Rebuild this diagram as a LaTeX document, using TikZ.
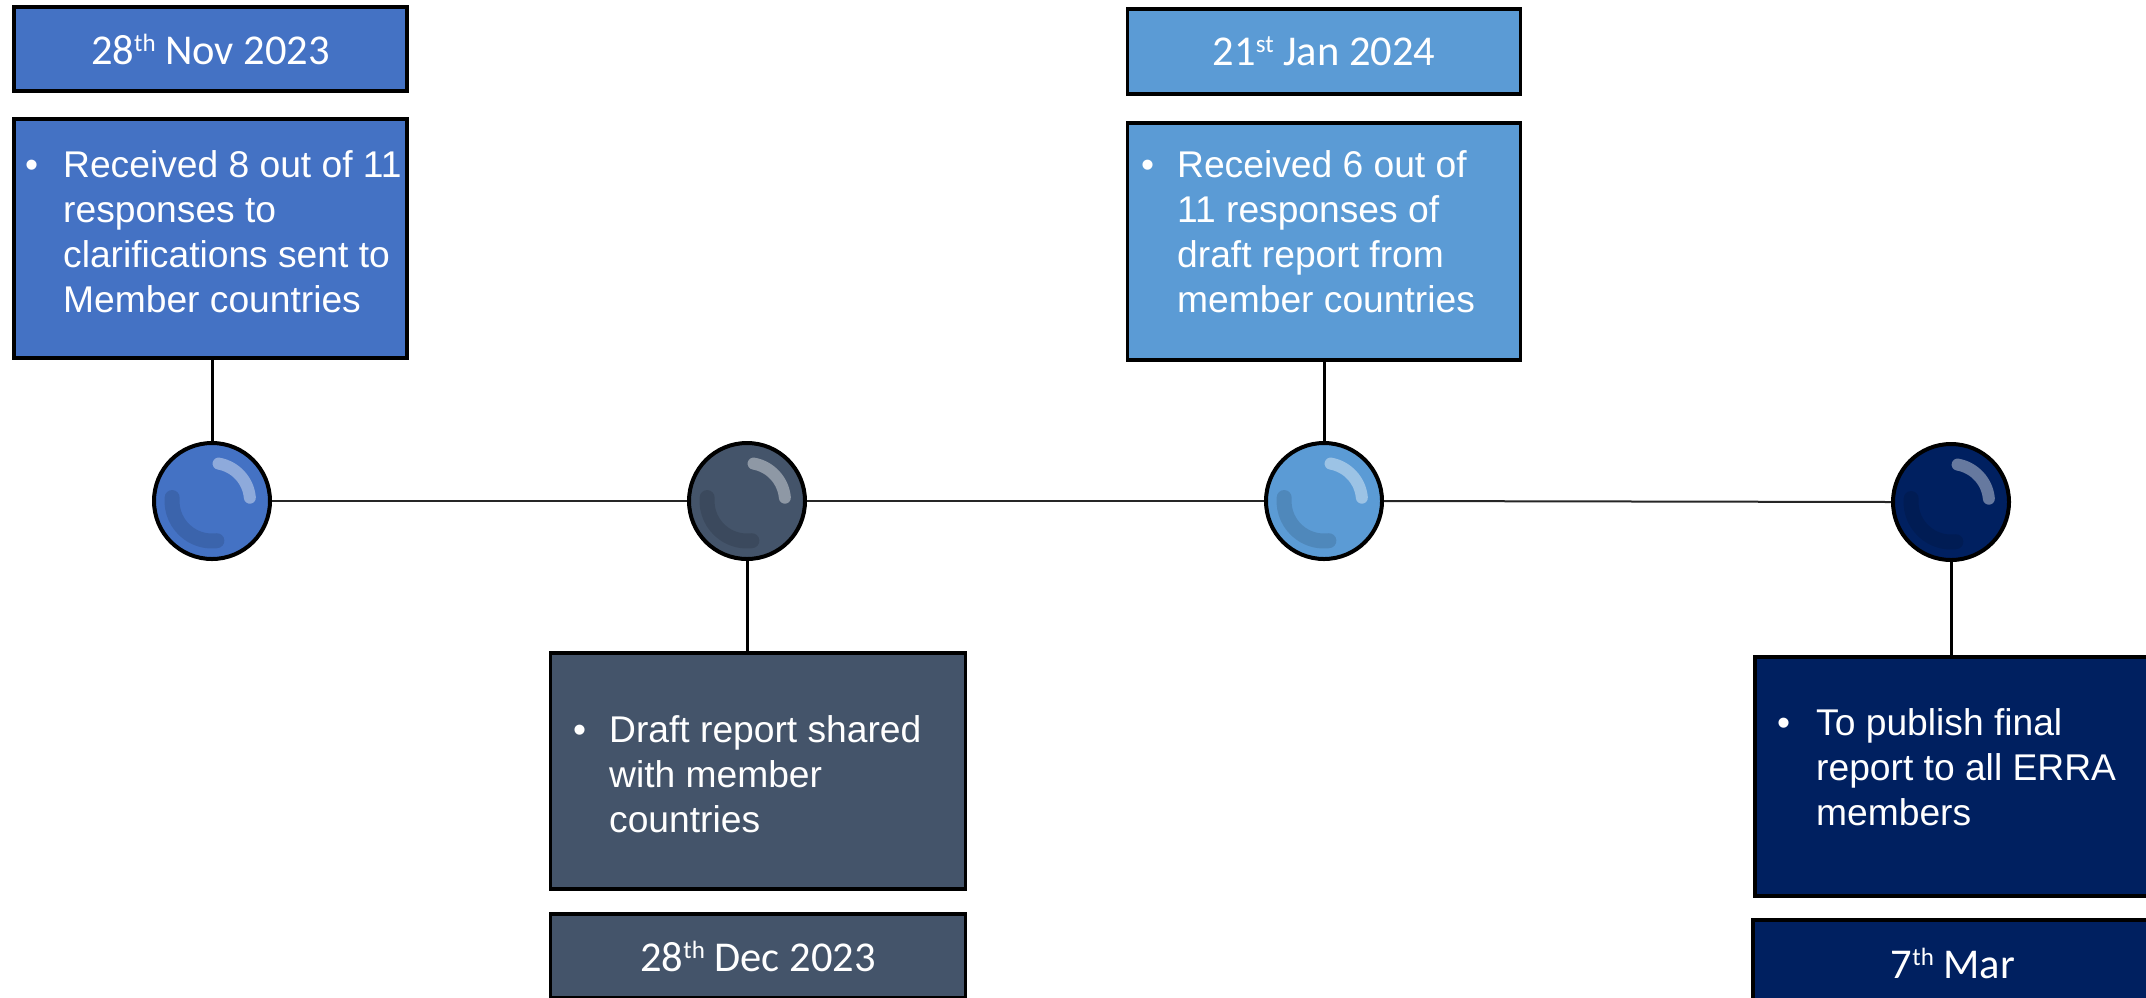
\documentclass[tikz,border=0pt]{standalone}
\usepackage{fontspec}
\setmainfont{Liberation Sans}
\newfontfamily\datefont{Carlito}
\definecolor{colA}{HTML}{4472C4}
\definecolor{colB}{HTML}{44546A}
\definecolor{colC}{HTML}{5B9BD5}
\definecolor{colD}{HTML}{002060}
\newcommand\datesup[1]{\raisebox{13pt}{\fontsize{25}{25}\selectfont #1}}
\tikzset{
  boxshape/.style={rectangle, draw=black, line width=3.5pt, inner sep=0pt},
  datebox/.style={boxshape, text=white, font=\datefont\fontsize{42.5}{48}\selectfont},
  bodytext/.style={inner sep=0pt, text=white, anchor=base west, font=\fontsize{37.2}{45}\selectfont},
  bead/.style={circle, draw=black, line width=4pt, minimum size=116pt, inner sep=0pt},
  hilite/.style={white, opacity=0.4, line width=12pt, line cap=round},
  darkarc/.style={black, opacity=0.12, line width=15pt, line cap=round},
  conn/.style={black, line width=3pt},
  tline/.style={black!85, line width=2pt},
}
\newcommand\beadmarks[1]{%
  \draw[hilite] ([shift={(80:38pt)}]#1.center) arc[start angle=80, end angle=5, radius=38pt];
  \draw[darkarc] ([shift={(175:40pt)}]#1.center) arc[start angle=175, end angle=277, radius=40pt];
}
\begin{document}
\begin{tikzpicture}[x=1pt,y=1pt]
\useasboundingbox (0,0) rectangle (2146,-997);
\fill[white] (0,0) rectangle (2146,-997);
\clip (0,0) rectangle (2146,-997);

% boxes
\node[datebox, fill=colA, minimum width=393pt, minimum height=84pt] (d1) at (210.5,-49) {28\datesup{th} Nov 2023};
\node[boxshape, fill=colA, minimum width=393pt, minimum height=239pt] (t1) at (210.5,-238.5) {};
\node[bodytext] (x1) at (25,-177) {\makebox[38pt][l]{\textbullet}\parbox[t]{340pt}{\raggedright Received 8 out of 11\\responses to\\clarifications sent to\\Member countries}};

\node[boxshape, fill=colB, minimum width=415pt, minimum height=236pt] (t2) at (758,-771) {};
\node[bodytext] (x2) at (573,-742) {\makebox[36pt][l]{\textbullet}\parbox[t]{340pt}{\raggedright Draft report shared\\with member\\countries}};
\node[datebox, fill=colB, minimum width=415pt, minimum height=84pt] (d2) at (758,-956) {28\datesup{th} Dec 2023};

\node[datebox, fill=colC, minimum width=393pt, minimum height=85pt] (d3) at (1324,-51.5) {21\datesup{st} Jan 2024};
\node[boxshape, fill=colC, minimum width=393pt, minimum height=237pt] (t3) at (1324,-241.5) {};
\node[bodytext] (x3) at (1141,-177) {\makebox[36pt][l]{\textbullet}\parbox[t]{340pt}{\raggedright Received 6 out of\\11 responses of\\draft report from\\member countries}};

\node[boxshape, fill=colD, minimum width=398pt, minimum height=239pt] (t4) at (1954,-776.5) {};
\node[bodytext] (x4) at (1777,-735) {\makebox[39pt][l]{\textbullet}\parbox[t]{340pt}{\raggedright To publish final\\report to all ERRA\\members}};
\node[datebox, fill=colD, minimum width=400pt, minimum height=86pt] (d4) at (1953,-963) {7\datesup{th} Mar};

% beads
\node[bead, fill=colA] (c1) at (212,-501) {};
\node[bead, fill=colB] (c2) at (747,-501) {};
\node[bead, fill=colC] (c3) at (1324,-501) {};
\node[bead, fill=colD] (c4) at (1951,-502) {};
\beadmarks{c1}
\beadmarks{c2}
\beadmarks{c3}
\beadmarks{c4}

% connectors
\draw[tline] (c1.east) -- (c2.west);
\draw[tline] (c2.east) -- (c3.west);
\draw[tline] (c3.east) -- (c4.west);
\draw[conn] (c1.north) -- (c1.north |- t1.south);
\draw[conn] (c2.south) -- (c2.south |- t2.north);
\draw[conn] (c3.north) -- (c3.north |- t3.south);
\draw[conn] (c4.south) -- (c4.south |- t4.north);
\end{tikzpicture}
\end{document}
